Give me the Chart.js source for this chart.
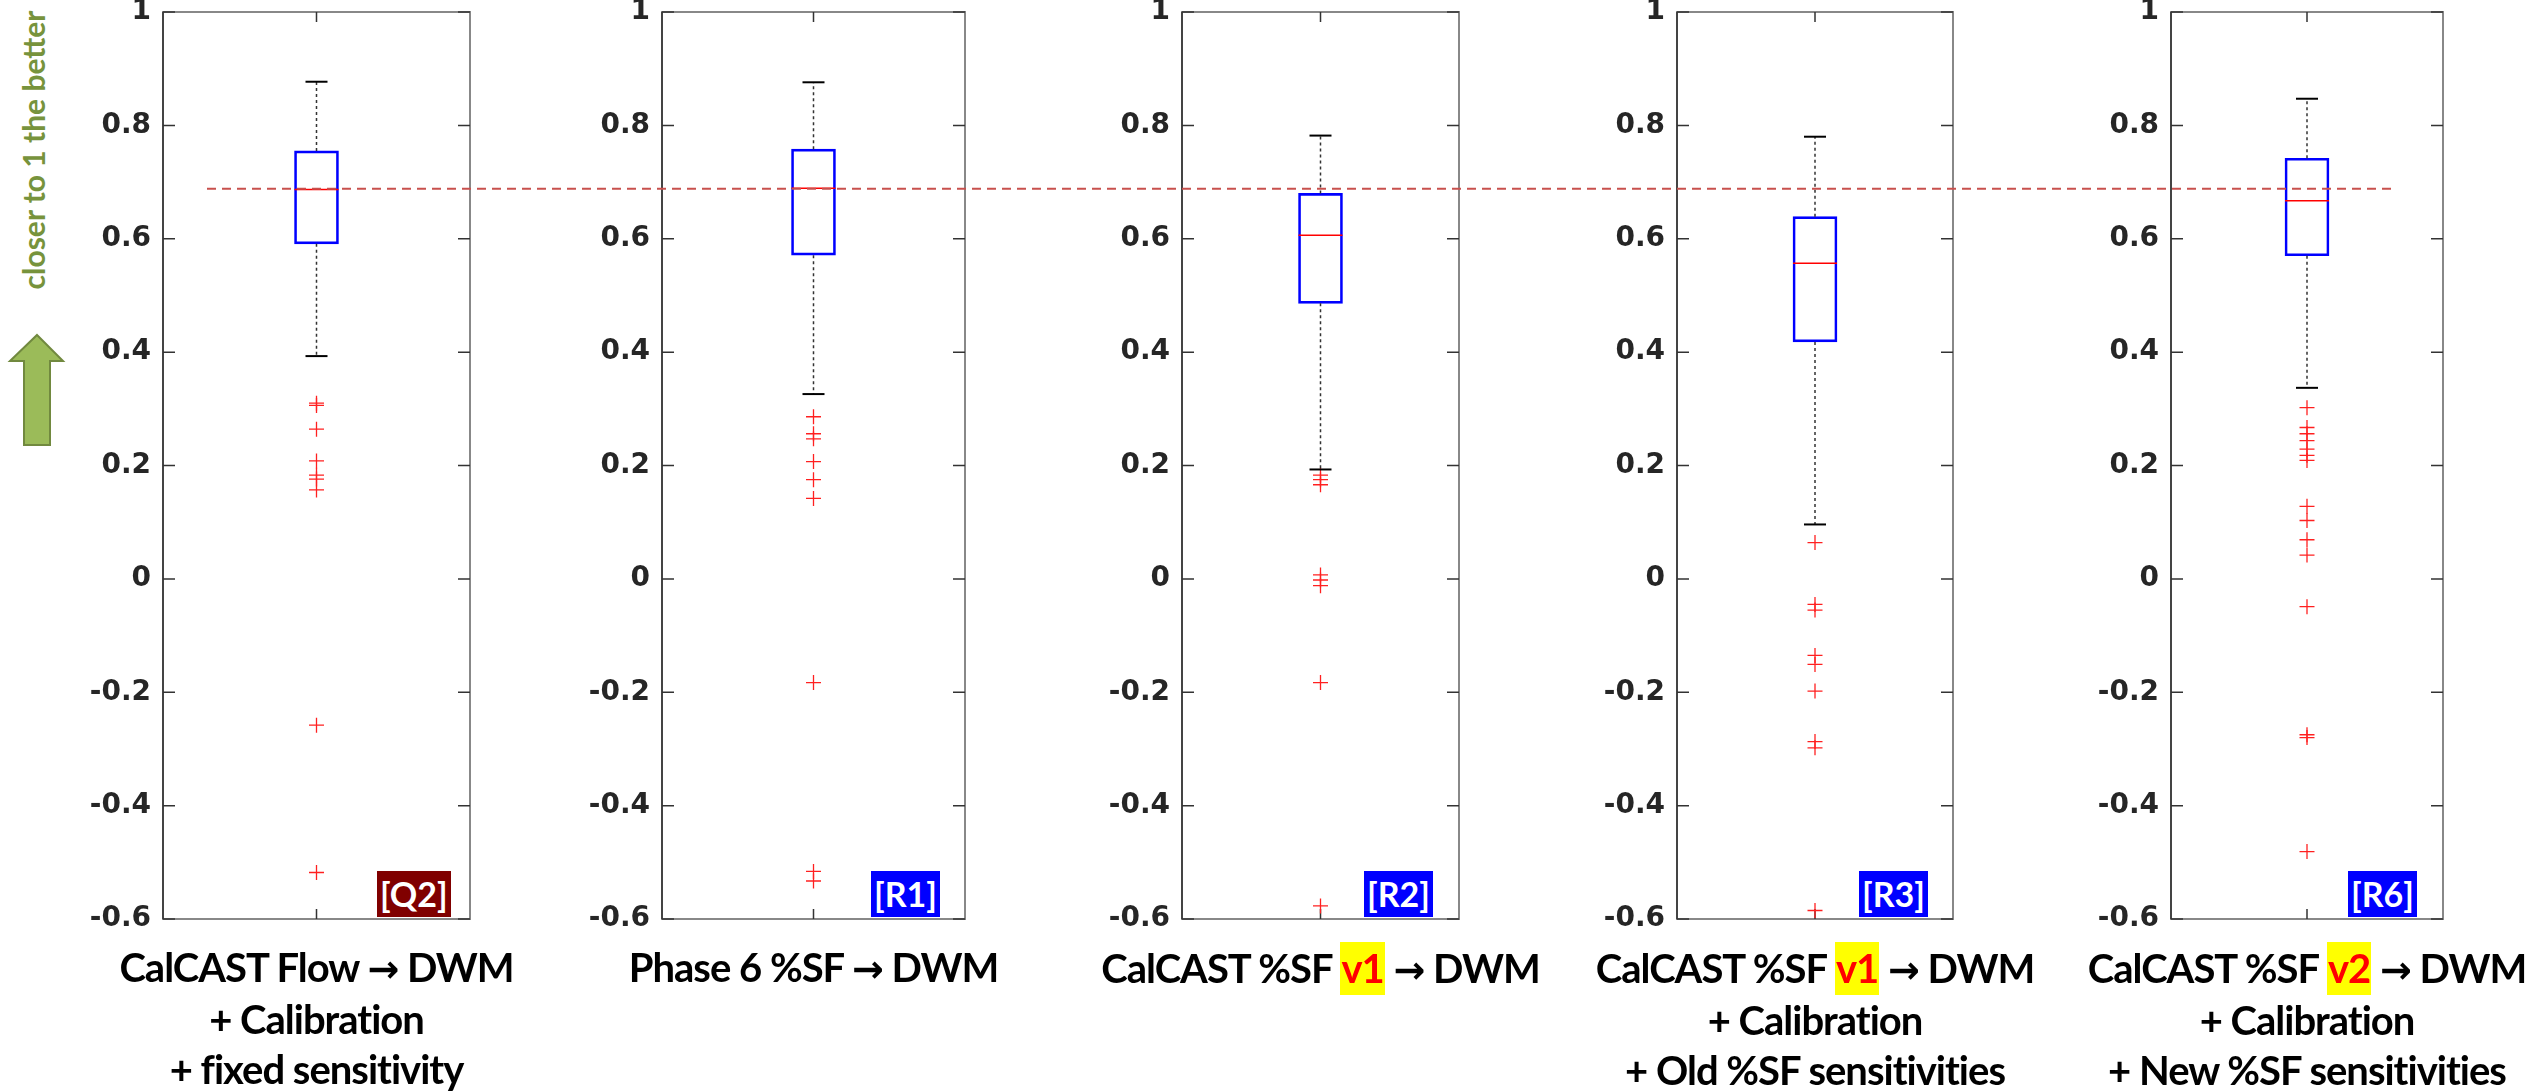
<!DOCTYPE html>
<html>
<head>
<meta charset="utf-8">
<script src="https://cdn.jsdelivr.net/npm/chart.js@4.4.1/dist/chart.umd.min.js"></script>
<style>
  body { margin: 0; width: 2529px; height: 1091px; background: #fff; position: relative; overflow: hidden; font-family: Lato, sans-serif; }
  .panel { position: absolute; top: -30px; }
  .xlabel { position: absolute; top: 942px; width: 640px; text-align: center; font-weight: bold; font-size: 40px; letter-spacing: -1px; line-height: 50px; color: #000; white-space: nowrap; }
  .hl { background: #ffff00; color: #ff0000; display: inline-block; line-height: 53px; padding: 0 1px; }
  .arr { font-family: 'DejaVu Sans'; font-weight: bold; font-size: 38px; }
  .badge { position: absolute; top: 871px; height: 46px; line-height: 46px; color: #fff; font-weight: bold; font-size: 34px; padding: 0 3px; }
  #note { position: absolute; left: 33px; top: 150px; transform: translate(-50%, -50%) rotate(-90deg); color: #77933c; font-weight: bold; font-size: 30px; white-space: nowrap; }
</style>
</head>
<body>
<div id="note">closer to 1 the better</div>
<svg style="position:absolute;left:0;top:0" width="80" height="460">
  <polygon points="37,335 63,361 50,361 50,445 24,445 24,361 10,361" fill="#9bbb59" stroke="#71893f" stroke-width="2"/>
</svg>
<div id="charts"></div>
<script>
// box plot statistics, one entry per panel
const categories = ['Q2', 'R1', 'R2', 'R3', 'R6'];
const whiskerLow = [0.393, 0.326, 0.193, 0.096, 0.337];
const q1 = [0.591, 0.571, 0.486, 0.418, 0.570];
const median = [0.687, 0.689, 0.606, 0.557, 0.667];
const q3 = [0.755, 0.758, 0.680, 0.639, 0.742];
const whiskerHigh = [0.877, 0.876, 0.782, 0.780, 0.847];

// outliers per panel
const outliersQ2 = [0.310, 0.306, 0.264, 0.208, 0.183, 0.176, 0.157, -0.258, -0.518];
const outliersR1 = [0.286, 0.256, 0.247, 0.207, 0.175, 0.142, -0.183, -0.516, -0.533];
const outliersR2 = [0.183, 0.175, 0.166, 0.007, -0.002, -0.012, -0.183, -0.577];
const outliersR3 = [0.064, -0.045, -0.055, -0.135, -0.151, -0.198, -0.287, -0.298, -0.585];
const outliersR6 = [0.302, 0.267, 0.256, 0.244, 0.229, 0.218, 0.209, 0.128, 0.103, 0.069, 0.042, -0.049, -0.275, -0.280, -0.481];
const outliers = [outliersQ2, outliersR1, outliersR2, outliersR3, outliersR6];

const refValue = 0.688; // dashed reference line
const yTicks = [-0.6, -0.4, -0.2, 0, 0.2, 0.4, 0.6, 0.8, 1];

// x labels ({v1} = highlighted version tag)
const labelLines = [
    ['CalCAST Flow → DWM', '+ Calibration', '+ fixed sensitivity'],
    ['Phase 6 %SF → DWM'],
    ['CalCAST %SF {v1} → DWM'],
    ['CalCAST %SF {v1} → DWM', '+ Calibration', '+ Old %SF sensitivities'],
    ['CalCAST %SF {v2} → DWM', '+ Calibration', '+ New %SF sensitivities']
];
const badgeColors = ['#800000', '#0000ff', '#0000ff', '#0000ff', '#0000ff'];

// layout (page pixels)
const panelLeft = [163, 662, 1182, 1677, 2171];
const panelRight = [470, 965, 1459, 1953, 2443];
const badgeRight = [451, 940, 1433, 1928, 2417];
const AXIS_W = 140;
const CANVAS_TOP = -30, CANVAS_H = 990;
const PLOT_TOP = 12, PLOT_BOTTOM = 919;
const REF_START = 207, REF_END = 2397;

const holder = document.getElementById('charts');

categories.forEach((cat, i) => {
    const left = panelLeft[i] - AXIS_W;
    const right = i < categories.length - 1 ? panelLeft[i + 1] - AXIS_W : 2529;
    const width = right - left;

    const canvas = document.createElement('canvas');
    canvas.className = 'panel';
    canvas.width = width;
    canvas.height = CANVAS_H;
    canvas.style.left = left + 'px';
    holder.appendChild(canvas);

    const boxParts = {
        id: 'boxParts' + i,
        beforeDatasetsDraw(chart) {
            // frame and inward ticks (MATLAB style)
            const ctx = chart.ctx, a = chart.chartArea, y = chart.scales.y, x = chart.scales.x;
            ctx.save();
            ctx.lineWidth = 2;
            ctx.strokeStyle = '#888';
            ctx.strokeRect(a.left, a.top, a.right - a.left, a.bottom - a.top);
            ctx.strokeStyle = '#444';
            ctx.beginPath(); ctx.moveTo(a.left, a.top); ctx.lineTo(a.left, a.bottom); ctx.stroke();
            ctx.lineWidth = 1.5;
            ctx.strokeStyle = '#333';
            ctx.beginPath();
            y.ticks.forEach(t => {
                const py = y.getPixelForValue(t.value);
                ctx.moveTo(a.left, py); ctx.lineTo(a.left + 12, py);
                ctx.moveTo(a.right, py); ctx.lineTo(a.right - 12, py);
            });
            const cx = x.getPixelForValue(0);
            ctx.moveTo(cx, a.top); ctx.lineTo(cx, a.top + 10);
            ctx.moveTo(cx, a.bottom); ctx.lineTo(cx, a.bottom - 10);
            ctx.stroke();
            ctx.restore();
        },
        afterDatasetsDraw(chart) {
            const ctx = chart.ctx, y = chart.scales.y, x = chart.scales.x;
            const cx = x.getPixelForValue(0);
            const half = chart.getDatasetMeta(0).data[0].width / 2;
            const seg = (x0, y0, x1, y1) => { ctx.beginPath(); ctx.moveTo(x0, y0); ctx.lineTo(x1, y1); ctx.stroke(); };
            ctx.save();
            // whiskers
            ctx.strokeStyle = '#333';
            ctx.lineWidth = 1.5;
            ctx.setLineDash([3, 3]);
            seg(cx, y.getPixelForValue(q3[i]), cx, y.getPixelForValue(whiskerHigh[i]));
            seg(cx, y.getPixelForValue(q1[i]), cx, y.getPixelForValue(whiskerLow[i]));
            ctx.setLineDash([]);
            ctx.strokeStyle = '#000';
            ctx.lineWidth = 2;
            seg(cx - 11, y.getPixelForValue(whiskerHigh[i]), cx + 11, y.getPixelForValue(whiskerHigh[i]));
            seg(cx - 11, y.getPixelForValue(whiskerLow[i]), cx + 11, y.getPixelForValue(whiskerLow[i]));
            // median
            ctx.strokeStyle = '#ff0000';
            ctx.lineWidth = 1.5;
            seg(cx - half, y.getPixelForValue(median[i]), cx + half, y.getPixelForValue(median[i]));
            // reference line, continuous across the panels
            const x0 = i === 0 ? REF_START - left : 0;
            const x1 = i === categories.length - 1 ? REF_END - left : width;
            ctx.strokeStyle = '#c8504d';
            ctx.lineWidth = 2;
            ctx.setLineDash([9, 6]);
            ctx.lineDashOffset = i === 0 ? 0 : left - REF_START;
            seg(x0, y.getPixelForValue(refValue), x1, y.getPixelForValue(refValue));
            ctx.restore();
        }
    };

    new Chart(canvas.getContext('2d'), {
        type: 'bar',
        data: {
            labels: [cat],
            datasets: [{
                data: [[q1[i], q3[i]]],
                backgroundColor: 'rgba(0,0,0,0)',
                borderColor: '#0000ff',
                borderWidth: 2,
                borderSkipped: false,
                barThickness: 44
            }, {
                type: 'line',
                data: outliers[i].map(v => ({ x: cat, y: v })),
                showLine: false,
                pointStyle: 'cross',
                pointRadius: 7.5,
                borderColor: '#ff2020',
                backgroundColor: '#ff2020',
                borderWidth: 1.3
            }]
        },
        options: {
            responsive: false,
            animation: false,
            events: [],
            layout: {
                padding: {
                    left: 0,
                    right: right - panelRight[i],
                    top: PLOT_TOP - CANVAS_TOP,
                    bottom: CANVAS_H - (PLOT_BOTTOM - CANVAS_TOP)
                }
            },
            plugins: { legend: { display: false }, tooltip: { enabled: false } },
            scales: {
                x: { display: false, offset: true },
                y: {
                    min: -0.6,
                    max: 1,
                    afterBuildTicks: s => { s.ticks = yTicks.map(v => ({ value: v })); },
                    afterFit: s => { s.width = AXIS_W; },
                    grid: { display: false, drawTicks: false },
                    border: { display: false },
                    ticks: {
                        padding: 12,
                        color: '#262626',
                        font: { family: 'DejaVu Sans', weight: 'bold', size: 28 },
                        callback: v => String(+Number(v).toFixed(1))
                    }
                }
            }
        },
        plugins: [boxParts]
    });

    // x label under the panel
    const center = (panelLeft[i] + panelRight[i]) / 2;
    const lbl = document.createElement('div');
    lbl.className = 'xlabel';
    lbl.style.left = (center - 320) + 'px';
    lbl.innerHTML = labelLines[i]
        .map(s => s.replace(/\{(v\d)\}/, '<span class="hl">$1</span>').replace('→', '<span class="arr">→</span>'))
        .join('<br>');
    document.body.appendChild(lbl);

    // tag badge
    const badge = document.createElement('div');
    badge.className = 'badge';
    badge.style.background = badgeColors[i];
    badge.textContent = '[' + cat + ']';
    document.body.appendChild(badge);
    badge.style.left = (badgeRight[i] - badge.offsetWidth) + 'px';
});
</script>
</body>
</html>
